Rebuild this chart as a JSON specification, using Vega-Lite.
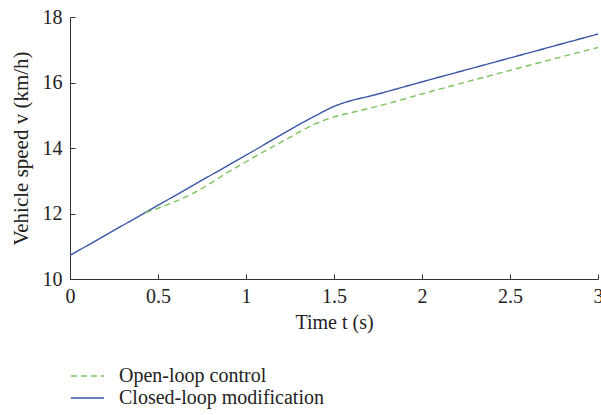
{
  "$schema": "https://vega.github.io/schema/vega-lite/v6.json",
  "width": 528,
  "height": 262,
  "autosize": {"type": "none"},
  "padding": {"left": 70, "top": 17, "right": 3, "bottom": 136},
  "background": "white",
  "config": {
    "view": {"stroke": null},
    "font": "Liberation Serif",
    "axis": {
      "grid": false,
      "domainColor": "#333333",
      "tickColor": "#333333",
      "tickSize": -5,
      "labelFont": "Liberation Serif",
      "titleFont": "Liberation Serif",
      "labelFontSize": 20,
      "titleFontSize": 20,
      "labelColor": "#222222",
      "titleColor": "#222222",
      "titleFontWeight": "normal"
    }
  },
  "data": {
    "values": [
      {"t": 0.0, "v": 10.72, "s": "Closed-loop modification"},
      {"t": 0.5, "v": 12.25, "s": "Closed-loop modification"},
      {"t": 1.0, "v": 13.78, "s": "Closed-loop modification"},
      {"t": 1.4, "v": 15.0, "s": "Closed-loop modification"},
      {"t": 1.5, "v": 15.27, "s": "Closed-loop modification"},
      {"t": 1.55, "v": 15.37, "s": "Closed-loop modification"},
      {"t": 1.6, "v": 15.45, "s": "Closed-loop modification"},
      {"t": 1.7, "v": 15.58, "s": "Closed-loop modification"},
      {"t": 2.0, "v": 16.02, "s": "Closed-loop modification"},
      {"t": 2.5, "v": 16.75, "s": "Closed-loop modification"},
      {"t": 3.0, "v": 17.48, "s": "Closed-loop modification"},
      {"t": 0.43, "v": 12.03, "s": "Open-loop control"},
      {"t": 0.5, "v": 12.16, "s": "Open-loop control"},
      {"t": 0.6, "v": 12.37, "s": "Open-loop control"},
      {"t": 0.7, "v": 12.62, "s": "Open-loop control"},
      {"t": 0.8, "v": 12.93, "s": "Open-loop control"},
      {"t": 0.9, "v": 13.27, "s": "Open-loop control"},
      {"t": 1.0, "v": 13.58, "s": "Open-loop control"},
      {"t": 1.2, "v": 14.18, "s": "Open-loop control"},
      {"t": 1.4, "v": 14.75, "s": "Open-loop control"},
      {"t": 1.5, "v": 14.95, "s": "Open-loop control"},
      {"t": 1.6, "v": 15.08, "s": "Open-loop control"},
      {"t": 1.8, "v": 15.35, "s": "Open-loop control"},
      {"t": 2.0, "v": 15.65, "s": "Open-loop control"},
      {"t": 2.5, "v": 16.37, "s": "Open-loop control"},
      {"t": 3.0, "v": 17.07, "s": "Open-loop control"}
    ]
  },
  "mark": {"type": "line", "strokeWidth": 1.4, "interpolate": "monotone"},
  "encoding": {
    "x": {
      "field": "t", "type": "quantitative",
      "scale": {"domain": [0, 3], "nice": false},
      "axis": {"title": "Time t (s)", "values": [0, 0.5, 1, 1.5, 2, 2.5, 3], "format": "~g", "labelPadding": 12, "titlePadding": 6, "labelFlush": false}
    },
    "y": {
      "field": "v", "type": "quantitative",
      "scale": {"domain": [10, 18], "nice": false, "zero": false},
      "axis": {"title": "Vehicle speed v (km/h)", "values": [10, 12, 14, 16, 18], "labelPadding": 13, "titlePadding": 11, "titleFontSize": 21, "labelFlush": false}
    },
    "color": {
      "field": "s", "type": "nominal",
      "scale": {"domain": ["Open-loop control", "Closed-loop modification"], "range": ["#7ac35a", "#3a55a6"]},
      "legend": {
        "title": null, "orient": "none", "legendX": 0, "legendY": 348,
        "labelFont": "Liberation Serif", "labelFontSize": 20, "labelColor": "#222222", "labelLimit": 0,
        "symbolType": "stroke", "symbolSize": 1100, "symbolStrokeWidth": 1.4, "rowPadding": 0, "clipHeight": 22, "labelOffset": 14
      }
    },
    "strokeDash": {
      "field": "s", "type": "nominal",
      "scale": {"domain": ["Open-loop control", "Closed-loop modification"], "range": [[6, 4], [1, 0]]},
      "legend": null
    }
  }
}
